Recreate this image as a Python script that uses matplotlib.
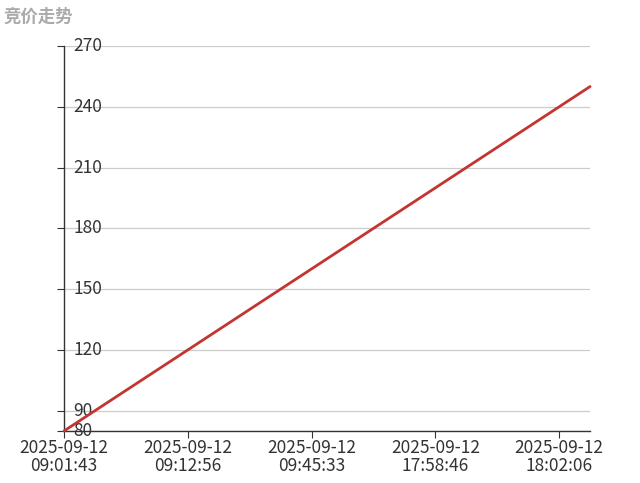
import matplotlib
matplotlib.use("Agg")
from matplotlib import pyplot as plt

plt.rcParams['font.family'] = ['Noto Sans CJK SC', 'DejaVu Sans']

title = "竞价走势"
# bid prices, one per bid (18 bids, straight rise)
prices = [80, 90, 100, 110, 120, 130, 140, 150, 160, 170,
          180, 190, 200, 210, 220, 230, 240, 250]
# only every 4th bid time is labelled on the axis
label_idx = [0, 4, 8, 12, 16]
label_times = ["2025-09-12\n09:01:43", "2025-09-12\n09:12:56", "2025-09-12\n09:45:33",
               "2025-09-12\n17:58:46", "2025-09-12\n18:02:06"]
yticks = [80, 90, 120, 150, 180, 210, 240, 270]

fig = plt.figure(figsize=(6.4, 4.83), dpi=100)
ax = fig.add_axes([0.1, 0.1077, 0.822, 0.797])

x = list(range(len(prices)))
ax.plot(x, prices, color="#c23531", lw=2.0, solid_capstyle="round", clip_on=False, zorder=3)

ax.set_xlim(0, len(prices) - 1)
ax.set_ylim(80, 270)
ax.set_yticks(yticks)
ax.set_yticklabels([str(v) for v in yticks])
ax.set_xticks(label_idx)
ax.set_xticklabels(label_times, linespacing=0.95)

ax.grid(axis="y", color="#cccccc", lw=0.9)
ax.set_axisbelow(True)
for s in ["top", "right"]:
    ax.spines[s].set_visible(False)
for s in ["left", "bottom"]:
    ax.spines[s].set_color("#333333")
    ax.spines[s].set_linewidth(1.0)

ax.tick_params(axis="y", direction="out", length=5, color="#333333", labelcolor="#333333",
               labelsize=12.5, pad=-12)
for lbl in ax.get_yticklabels():
    lbl.set_horizontalalignment("left")
    lbl.set_verticalalignment("center")
ax.tick_params(axis="x", direction="out", length=5, color="#333333", labelcolor="#333333",
               labelsize=12.5, pad=1)

fig.text(0.005, 0.965, title, color="#aaaaaa", fontsize=12.5, fontweight="bold", va="center")

plt.savefig("out.png")
plt.close()
